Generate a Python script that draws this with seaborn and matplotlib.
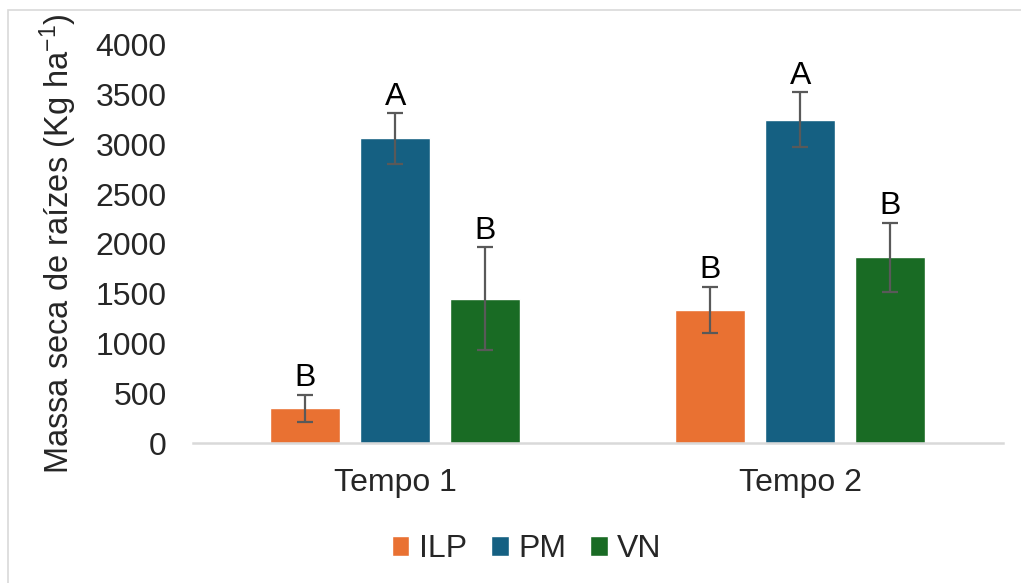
import numpy as np
import pandas as pd
import matplotlib
matplotlib.use('Agg')
import matplotlib.pyplot as plt
import seaborn as sns
from matplotlib.patches import Rectangle

# dados
tempos = ['Tempo 1', 'Tempo 2']
tratamentos = ['ILP', 'PM', 'VN']
medias = {
    'ILP': [350, 1340],
    'PM': [3060, 3250],
    'VN': [1450, 1865],
}
erros = {
    'ILP': [135, 230],
    'PM': [256, 275],
    'VN': [517, 350],
}
letras = {
    'ILP': ['B', 'B'],
    'PM': ['A', 'A'],
    'VN': ['B', 'B'],
}
cores = ['#E97132', '#156082', '#196B24']

sns.set_style('white')
plt.rcParams['font.family'] = ['Liberation Sans', 'DejaVu Sans']
plt.rcParams['mathtext.fontset'] = 'custom'
plt.rcParams['mathtext.rm'] = 'Liberation Sans'
plt.rcParams['mathtext.it'] = 'Liberation Sans'

rows = []
for t in tratamentos:
    for i, tp in enumerate(tempos):
        rows.append([tp, t, medias[t][i], erros[t][i], letras[t][i]])
df = pd.DataFrame(rows, columns=['tempo', 'trat', 'valor', 'erro', 'letra'])

fs = 23

fig = plt.figure(figsize=(10.21, 5.83), dpi=100)
ax = fig.add_axes([0.189, 0.240, 0.793, 0.683])

sns.barplot(
    data=df, x='tempo', y='valor', hue='trat',
    order=tempos, hue_order=tratamentos,
    palette=cores, width=0.667, gap=0.22,
    errorbar=None, ax=ax, saturation=1
)

for cont, t in zip(ax.containers, tratamentos):
    for bar, i in zip(cont, range(len(tempos))):
        xc = bar.get_x() + bar.get_width() / 2
        y = medias[t][i]
        e = erros[t][i]
        ax.errorbar(xc, y, yerr=e, color='#595959', lw=1.6,
                    capsize=5.5, capthick=1.6)
        ax.annotate(letras[t][i], (xc, y + e), xytext=(0, 1),
                    textcoords='offset points', ha='center', va='bottom',
                    fontsize=fs, color='black')

ax.set_ylim(0, 4000)
ax.set_xlim(-0.5, 1.5)
ax.set_yticks(np.arange(0, 4001, 500))
ax.tick_params(axis='y', length=0, pad=19, labelsize=fs)
ax.tick_params(axis='x', length=0, pad=18, labelsize=fs)
ax.set_xlabel('')
ax.set_ylabel('Massa seca de raízes (Kg ha$^{\\mathregular{-1}}$)',
              fontsize=fs + 0.5, labelpad=12)

for s in ['top', 'right', 'left']:
    ax.spines[s].set_visible(False)
ax.spines['bottom'].set_color('#D9D9D9')
ax.spines['bottom'].set_linewidth(1.8)

handles, labels = ax.get_legend_handles_labels()
ax.legend_.remove()
fig.legend(handles, labels, loc='center', bbox_to_anchor=(0.516, 0.058),
           ncol=3, frameon=False, fontsize=fs, handlelength=0.55,
           handleheight=0.55, handletextpad=0.3, columnspacing=0.75)

# moldura da area do grafico
fig.patches.append(Rectangle((8 / 1021, -0.1), 1.2, 1 - 10 / 583 + 0.1,
                             transform=fig.transFigure, fill=False,
                             edgecolor='#D9D9D9', lw=1.2))

fig.savefig('out.png', dpi=100)
